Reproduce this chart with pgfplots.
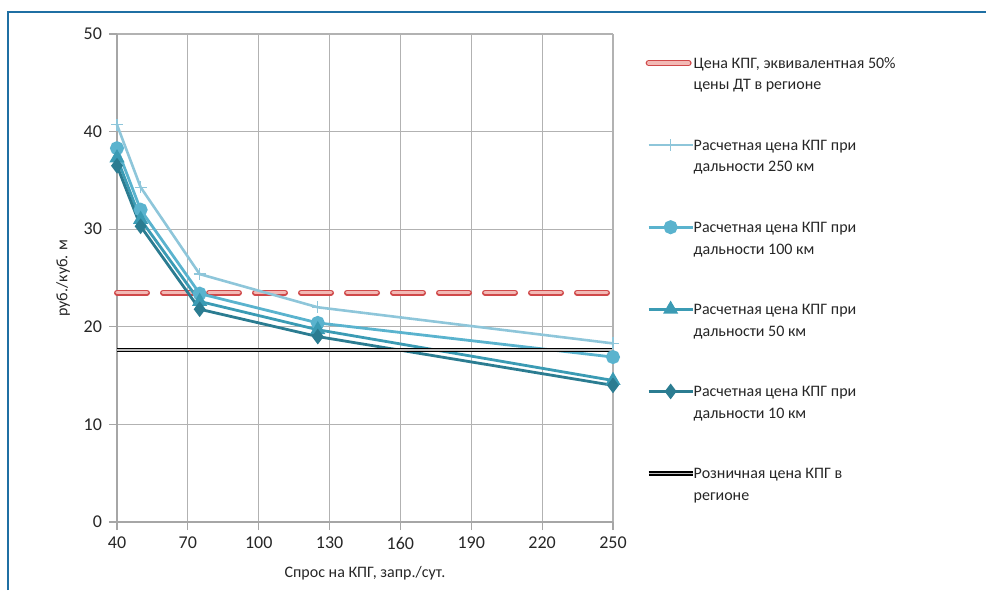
\documentclass[border=0pt]{standalone}
\usepackage{fontspec}
\setmainfont{Carlito}
\usepackage{pgfplots}
\pgfplotsset{compat=1.18}
\definecolor{framecol}{HTML}{1F6FA3}
\definecolor{cA}{HTML}{8EC6DA}
\definecolor{cB}{HTML}{5AB3CE}
\definecolor{cC}{HTML}{3B9BB4}
\definecolor{cD}{HTML}{2B7C91}
\definecolor{redb}{HTML}{D0494A}
\definecolor{redi}{HTML}{F2B9B5}
\definecolor{txt}{HTML}{262626}
\newcommand{\lt}[2]{\begin{tabular}[t]{@{\hspace{-2.5pt}}l@{}}#1\\#2\end{tabular}}
\begin{document}
\begin{tikzpicture}
\useasboundingbox (0,0) rectangle (493pt,295pt);
\draw[framecol, line width=1.1pt] (4pt,0pt) -- (4pt,289pt) -- (493pt,289pt);
\begin{axis}[
  at={(58.5pt,34pt)}, anchor=south west,
  scale only axis, width=248pt, height=244pt,
  xmin=40, xmax=250, ymin=0, ymax=50,
  xtick={40,70,100,130,160,190,220,250},
  ytick={0,10,20,30,40,50},
  axis lines=left,
  axis line style={-, draw=black!35, line width=0.6pt},
  grid=major,
  major grid style={draw=black!30, line width=0.6pt},
  tick style={draw=black!35, line width=0.6pt},
  tick align=outside,
  major tick length=4pt,
  /pgf/number format/assume math mode=true,
  ticklabel style={font=\fontsize{9}{11}\selectfont, text=txt},
  xlabel={Спрос на КПГ, запр./сут.},
  ylabel={руб./куб. м},
  xlabel style={yshift=-1.5pt},
  label style={font=\fontsize{8}{10}\selectfont, text=txt},
  clip=false,
  legend style={at={(axis description cs:1.065,0.97)}, anchor=north west,
    draw=none, fill=none, inner sep=0pt, row sep=28pt,
    font=\fontsize{8}{10.8}\selectfont, text=txt,
    cells={anchor=base west}},
  legend image code/.code={\draw[mark repeat=2,mark phase=2,yshift=2.6pt] plot coordinates {(0pt,0pt) (11pt,0pt) (22pt,0pt)};},
]
\addplot[redb, line width=0.7pt, double=redi, double distance=1.6pt, dash pattern=on 15pt off 8pt, line cap=round,
  legend image code/.code={\draw[solid,yshift=2.6pt] (0pt,0pt) -- (20pt,0pt);}]
  coordinates {(40,23.5) (250,23.5)};
\addlegendentry{\lt{Цена КПГ, эквивалентная 50\%}{цены ДТ в регионе}}
\addplot[cA, line width=1.3pt, mark=+, mark size=3pt, mark options={line width=0.7pt}]
  coordinates {(40,40.7) (50,34.3) (75,25.4) (125,22.0) (250,18.3)};
\addlegendentry{\lt{Расчетная цена КПГ при}{дальности 250 км}}
\addplot[cB, line width=1.4pt, mark=*, mark size=2.8pt]
  coordinates {(40,38.3) (50,32.0) (75,23.4) (125,20.4) (250,16.9)};
\addlegendentry{\lt{Расчетная цена КПГ при}{дальности 100 км}}
\addplot[cC, line width=1.4pt, mark=triangle*, mark size=3pt]
  coordinates {(40,37.3) (50,31.0) (75,22.6) (125,19.7) (250,14.5)};
\addlegendentry{\lt{Расчетная цена КПГ при}{дальности 50 км}}
\addplot[cD, line width=1.4pt, mark=diamond*, mark size=2.8pt]
  coordinates {(40,36.5) (50,30.3) (75,21.8) (125,19.0) (250,14.0)};
\addlegendentry{\lt{Расчетная цена КПГ при}{дальности 10 км}}
\addplot[black, line width=0.6pt, double=black!25, double distance=0.9pt]
  coordinates {(40,17.65) (250,17.65)};
\addlegendentry{\lt{Розничная цена КПГ в}{регионе}}
\end{axis}
\end{tikzpicture}
\end{document}
